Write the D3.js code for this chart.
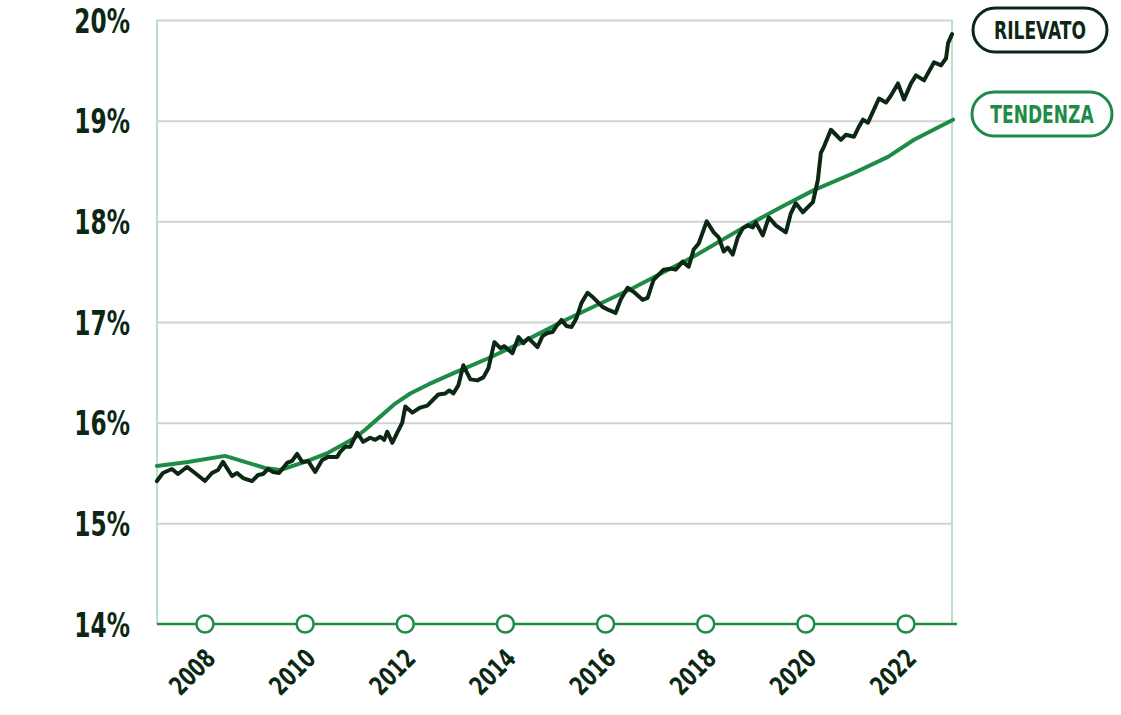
<!DOCTYPE html>
<html>
<head>
<meta charset="utf-8">
<script src="https://cdn.jsdelivr.net/npm/d3@7"></script>
<style>
  html, body { margin: 0; padding: 0; background: #fff; }
  svg { display: block; }
  .lbl { font-family: "DejaVu Sans Condensed", "DejaVu Sans", sans-serif; font-weight: bold; }
</style>
</head>
<body>
<svg id="chart" width="1121" height="715"></svg>
<script>
// ---- DATA ----
const yTicks = [14, 15, 16, 17, 18, 19, 20];
const xTicks = [2008, 2010, 2012, 2014, 2016, 2018, 2020, 2022];
const seriesNames = ["RILEVATO", "TENDENZA"];

const rilevatoYears = [2007.04,2007.16,2007.34,2007.46,2007.64,2007.80,2008.00,2008.14,2008.26,2008.36,2008.54,2008.64,2008.76,2008.94,2009.06,2009.16,2009.26,2009.36,2009.48,2009.64,2009.74,2009.84,2009.94,2010.06,2010.20,2010.34,2010.46,2010.64,2010.70,2010.80,2010.90,2011.04,2011.16,2011.30,2011.40,2011.50,2011.58,2011.64,2011.74,2011.84,2011.94,2012.00,2012.14,2012.30,2012.44,2012.56,2012.66,2012.80,2012.88,2012.96,2013.06,2013.16,2013.30,2013.44,2013.56,2013.66,2013.78,2013.90,2013.98,2014.14,2014.26,2014.36,2014.46,2014.64,2014.74,2014.84,2014.94,2015.02,2015.12,2015.22,2015.32,2015.42,2015.52,2015.64,2015.76,2015.94,2016.06,2016.20,2016.30,2016.44,2016.56,2016.74,2016.84,2016.96,2017.06,2017.16,2017.30,2017.40,2017.54,2017.66,2017.76,2017.86,2018.02,2018.16,2018.26,2018.36,2018.44,2018.54,2018.64,2018.74,2018.84,2018.94,2019.00,2019.14,2019.26,2019.40,2019.60,2019.70,2019.80,2019.94,2020.14,2020.24,2020.30,2020.36,2020.50,2020.60,2020.70,2020.80,2020.96,2021.06,2021.14,2021.24,2021.34,2021.46,2021.60,2021.70,2021.84,2021.96,2022.10,2022.20,2022.36,2022.56,2022.70,2022.80,2022.84,2022.92];
const rilevatoValues = [15.42,15.50,15.54,15.49,15.56,15.50,15.42,15.50,15.53,15.61,15.47,15.50,15.45,15.42,15.48,15.49,15.54,15.51,15.50,15.60,15.62,15.69,15.61,15.62,15.51,15.63,15.66,15.66,15.71,15.76,15.76,15.90,15.81,15.85,15.83,15.86,15.83,15.91,15.80,15.90,16.00,16.16,16.10,16.15,16.17,16.23,16.28,16.29,16.32,16.29,16.37,16.57,16.43,16.42,16.45,16.54,16.80,16.74,16.76,16.69,16.85,16.79,16.84,16.75,16.86,16.89,16.90,16.96,17.02,16.96,16.95,17.04,17.19,17.29,17.24,17.15,17.12,17.09,17.22,17.34,17.30,17.22,17.24,17.42,17.47,17.52,17.53,17.52,17.60,17.55,17.72,17.78,18.00,17.89,17.84,17.70,17.74,17.67,17.84,17.93,17.96,17.94,17.99,17.86,18.04,17.96,17.89,18.08,18.18,18.09,18.19,18.41,18.68,18.74,18.91,18.86,18.81,18.86,18.84,18.94,19.01,18.98,19.09,19.22,19.18,19.25,19.37,19.21,19.37,19.45,19.40,19.58,19.55,19.62,19.77,19.86];

const tendenzaYears = [2007.04,2007.66,2008.40,2009.20,2009.50,2010.00,2010.46,2011.00,2011.20,2011.50,2011.80,2012.10,2012.46,2013.00,2013.66,2014.34,2015.20,2016.56,2017.76,2018.76,2019.50,2020.16,2020.96,2021.64,2022.16,2022.94];
const tendenzaValues = [15.57,15.61,15.67,15.55,15.53,15.61,15.70,15.85,15.93,16.06,16.19,16.29,16.38,16.50,16.64,16.80,17.02,17.34,17.65,17.94,18.14,18.31,18.48,18.64,18.81,19.01];

// ---- STYLE ----
const DARK = "#0c2815";
const GREEN = "#1e8c47";
const MINT = "#b8e0cf";
const GRID = "#d2d2d2";

const svg = d3.select("#chart");
const pL = 157, pR = 952, pT = 20, pB = 624;

const x = d3.scaleLinear().domain([2007, 2022]).range([154.9, 906.0]);
const y = d3.scaleLinear().domain([14, 20]).range([pB, pT]);

// gridlines
const grid = svg.append("g")
  .attr("transform", `translate(${pL},0)`)
  .call(d3.axisLeft(y).tickValues(yTicks.filter(d => d > 14)).tickSize(-(pR - pL)).tickFormat(""));
grid.select(".domain").remove();
grid.selectAll("line").attr("stroke", GRID).attr("stroke-width", 2);

// side borders
svg.append("line").attr("x1", pL).attr("x2", pL).attr("y1", pT).attr("y2", pB)
  .attr("stroke", MINT).attr("stroke-width", 2);
svg.append("line").attr("x1", pR).attr("x2", pR).attr("y1", pT).attr("y2", pB)
  .attr("stroke", MINT).attr("stroke-width", 2);

// y labels
const yAx = svg.append("g")
  .attr("transform", `translate(130,0)`)
  .call(d3.axisLeft(y).tickValues(yTicks).tickSize(0).tickPadding(0).tickFormat(d => d + "%"));
yAx.select(".domain").remove();
yAx.selectAll("text")
  .attr("class", "lbl")
  .attr("font-size", 34)
  .attr("fill", DARK)
  .attr("dy", "0.36em")
  .attr("x", 0)
  .attr("transform", "scale(0.76,1)");

// lines
const lineGen = d3.line().x(d => x(d[0])).y(d => y(d[1])).curve(d3.curveLinear);
const tendenza = tendenzaYears.map((t, i) => [t, tendenzaValues[i]]);
const rilevato = rilevatoYears.map((t, i) => [t, rilevatoValues[i]]);

svg.append("path").datum(tendenza).attr("d", lineGen)
  .attr("fill", "none").attr("stroke", GREEN).attr("stroke-width", 4)
  .attr("stroke-linejoin", "round").attr("stroke-linecap", "round");
svg.append("path").datum(rilevato).attr("d", lineGen)
  .attr("fill", "none").attr("stroke", DARK).attr("stroke-width", 4)
  .attr("stroke-linejoin", "round").attr("stroke-linecap", "round");

// bottom axis
svg.append("line").attr("x1", pL).attr("x2", 957).attr("y1", pB).attr("y2", pB)
  .attr("stroke", GREEN).attr("stroke-width", 2.5);
svg.append("g").selectAll("circle").data(xTicks).join("circle")
  .attr("cx", d => x(d)).attr("cy", pB).attr("r", 8.5)
  .attr("fill", "#fff").attr("stroke", GREEN).attr("stroke-width", 2.5);

svg.append("g").selectAll("text").data(xTicks).join("text")
  .attr("class", "lbl")
  .attr("font-size", 26)
  .attr("fill", DARK)
  .attr("text-anchor", "end")
  .attr("transform", d => `translate(${x(d) + 12},660) rotate(-45) scale(0.8,1)`)
  .text(d => d);

// legend
const legend = [
  { name: seriesNames[0], color: DARK, cx: 1040, cy: 30, w: 134 },
  { name: seriesNames[1], color: GREEN, cx: 1042, cy: 114, w: 140 }
];
const lg = svg.append("g").selectAll("g").data(legend).join("g")
  .attr("transform", d => `translate(${d.cx},${d.cy})`);
lg.append("rect")
  .attr("x", d => -d.w / 2).attr("y", -22).attr("width", d => d.w).attr("height", 44)
  .attr("rx", 22).attr("ry", 22)
  .attr("fill", "#fff").attr("stroke", d => d.color).attr("stroke-width", 3);
lg.append("text")
  .attr("class", "lbl")
  .attr("font-size", 25)
  .attr("fill", d => d.color)
  .attr("text-anchor", "middle")
  .attr("dy", "0.36em")
  .attr("transform", "scale(0.76,1)")
  .text(d => d.name);
</script>
</body>
</html>
